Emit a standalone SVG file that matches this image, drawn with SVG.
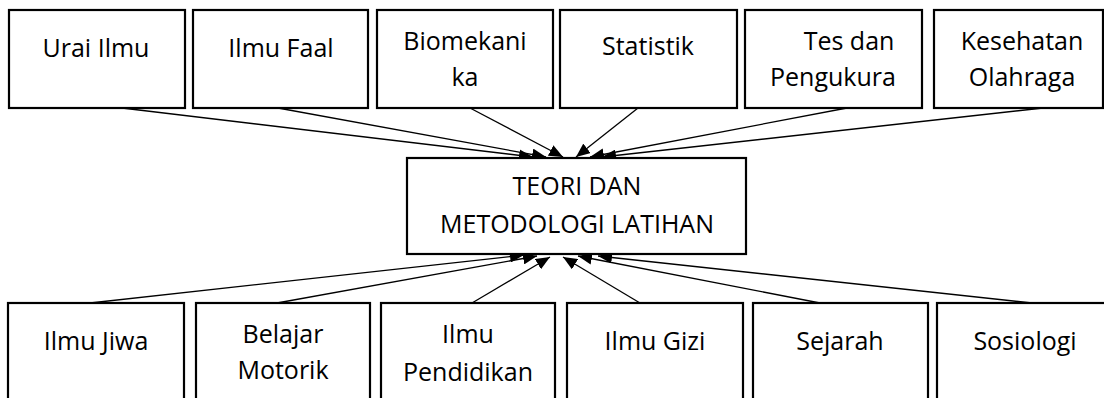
<svg xmlns="http://www.w3.org/2000/svg" width="1104" height="398" viewBox="0 0 1104 398">
<style>
.box{fill:#fff;stroke:#000;stroke-width:2.2}
.t{font-family:"Open Sans","Liberation Sans",sans-serif;font-size:25px;fill:#000;text-anchor:middle}
.c line{stroke:#000;stroke-width:1.3;marker-end:url(#ah)}
</style>
<defs>
<marker id="ah" viewBox="0 0 14 12" refX="14" refY="6" markerWidth="14" markerHeight="12" markerUnits="userSpaceOnUse" orient="auto">
<path d="M0,0 L14,6 L0,12 Z" fill="#000"/>
</marker>
</defs>
<rect width="1104" height="398" fill="#fff"/>
<g class="c" id="connectors">
<line x1="122" y1="108" x2="533" y2="157"/>
<line x1="278" y1="108" x2="546" y2="157"/>
<line x1="470" y1="108" x2="563" y2="157"/>
<line x1="638" y1="108" x2="576" y2="157"/>
<line x1="847" y1="108" x2="590" y2="157"/>
<line x1="1043" y1="108" x2="602" y2="157"/>
<line x1="90" y1="303" x2="524" y2="255"/>
<line x1="277" y1="303" x2="537" y2="256"/>
<line x1="472" y1="303" x2="550" y2="257"/>
<line x1="640" y1="303" x2="563" y2="257"/>
<line x1="820" y1="303" x2="578" y2="256"/>
<line x1="1032" y1="303" x2="598" y2="256"/>
</g>
<g id="n-urai"><rect class="box" x="9" y="10" width="176" height="98"/><text class="t" x="96" y="57">Urai Ilmu</text></g>
<g id="n-faal"><rect class="box" x="193" y="10" width="175" height="98"/><text class="t" x="281" y="57">Ilmu Faal</text></g>
<g id="n-bio"><rect class="box" x="377" y="10" width="176" height="98"/><text class="t" x="465" y="50">Biomekani</text><text class="t" x="465" y="86">ka</text></g>
<g id="n-stat"><rect class="box" x="560" y="10" width="177" height="98"/><text class="t" x="648" y="55">Statistik</text></g>
<g id="n-tes"><rect class="box" x="745" y="10" width="177" height="98"/><text class="t" x="849" y="50">Tes dan</text><text class="t" x="833" y="86">Pengukura</text></g>
<g id="n-kes"><rect class="box" x="934" y="10" width="169" height="98"/><text class="t" x="1022" y="50">Kesehatan</text><text class="t" x="1022" y="86">Olahraga</text></g>
<g id="n-center"><rect class="box" x="407" y="158" width="339" height="96"/><text class="t" x="577" y="195">TEORI DAN</text><text class="t" x="577" y="233">METODOLOGI LATIHAN</text></g>
<g id="n-jiwa"><rect class="box" x="8" y="303" width="176" height="120"/><text class="t" x="96" y="350">Ilmu Jiwa</text></g>
<g id="n-belajar"><rect class="box" x="196" y="303" width="174" height="120"/><text class="t" x="283" y="343">Belajar</text><text class="t" x="283" y="379">Motorik</text></g>
<g id="n-pend"><rect class="box" x="381" y="303" width="174" height="120"/><text class="t" x="468" y="343">Ilmu</text><text class="t" x="468" y="381">Pendidikan</text></g>
<g id="n-gizi"><rect class="box" x="567" y="303" width="176" height="120"/><text class="t" x="655" y="350">Ilmu Gizi</text></g>
<g id="n-sejarah"><rect class="box" x="753" y="303" width="175" height="120"/><text class="t" x="840" y="350">Sejarah</text></g>
<g id="n-sosio"><rect class="box" x="937" y="303" width="180" height="120"/><text class="t" x="1025" y="350">Sosiologi</text></g>
</svg>
